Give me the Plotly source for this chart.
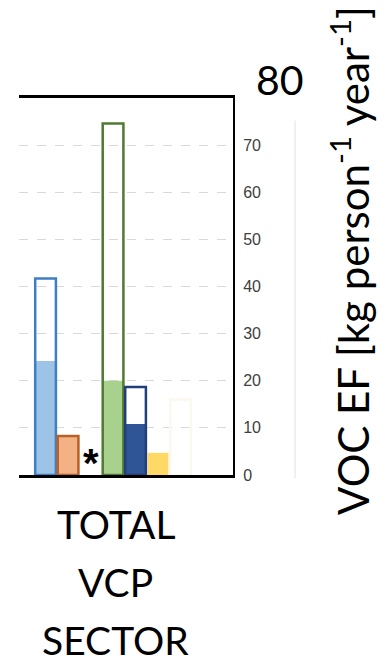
import plotly.graph_objects as go

# Emission-factor bars for the total VCP sector (kg person^-1 year^-1)
categories = ["Inventory A", "Inventory B", "gap", "Inventory C", "Inventory D", "Inventory E", "Inventory F"]
bar_categories = ["Inventory A", "Inventory B", "Inventory C", "Inventory D", "Inventory E", "Inventory F"]
total_values = [41.7, 8.3, 74.6, 18.7, 4.7, 16.0]
filled_values = [24.2, 8.3, 20.0, 10.8, 4.7, 0.0]
fill_colors = ["#9dc3e6", "#f4b183", "#a9d18e", "#2f5597", "#ffd966", "#ffffff"]
line_colors = ["#3d7fc4", "#b8602a", "#4f7a30", "#213f7a", "rgba(0,0,0,0)", "#fbf8ee"]
tick_values = [0, 10, 20, 30, 40, 50, 60, 70]
sector_lines = ["TOTAL", "VCP", "SECTOR"]

fig = go.Figure()

# filled portion of each bar
fig.add_trace(go.Bar(
    x=bar_categories, y=filled_values, width=0.92,
    marker=dict(color=fill_colors, line=dict(width=0)),
    showlegend=False, hoverinfo="skip",
))
# outlined total of each bar
fig.add_trace(go.Bar(
    x=bar_categories, y=total_values, width=0.92,
    marker=dict(color="rgba(0,0,0,0)", line=dict(color=line_colors, width=2.5)),
    showlegend=False, hoverinfo="skip",
))

fig.update_layout(
    width=391, height=659,
    margin=dict(l=19, r=158, t=98, b=184),
    paper_bgcolor="white", plot_bgcolor="white",
    barmode="overlay",
    xaxis=dict(
        type="category", categoryorder="array", categoryarray=categories,
        range=[-1.18, 8.33], showticklabels=False, ticks="",
        showline=True, mirror=True, linecolor="black", linewidth=3,
        showgrid=False, zeroline=False,
    ),
    yaxis=dict(
        side="right", range=[0, 80], tickvals=tick_values,
        showline=True, linecolor="black", linewidth=2,
        showgrid=True, gridcolor="#d9d9d9", gridwidth=1, griddash="dash",
        zeroline=False, ticks="", ticklabelstandoff=5,
        tickfont=dict(family="Liberation Sans, Arial", size=16, color="#404040"),
    ),
)

# thin divider to the right of the tick labels
fig.add_shape(type="line", xref="paper", yref="paper",
              x0=1.29, x1=1.29, y0=-0.008, y1=0.94,
              line=dict(color="#e2e2e2", width=1))

# marker for the missing inventory
fig.add_annotation(x="gap", y=0, xref="x", yref="y", text="<b>*</b>",
                   showarrow=False, yanchor="bottom", yshift=-12,
                   font=dict(family="Liberation Sans, Arial", size=40, color="black"))

# top value of the axis
fig.add_annotation(x=1.22, y=1.048, xref="paper", yref="paper", text="80",
                   showarrow=False, xanchor="center", yanchor="middle",
                   font=dict(family="Lato", size=41, color="black"))

# axis title
fig.add_annotation(x=1.547, y=0.568, xref="paper", yref="paper",
                   text="VOC EF [kg person<sup>-1</sup> year<sup>-1</sup>]",
                   textangle=-90, showarrow=False, xanchor="center", yanchor="middle",
                   font=dict(family="Lato", size=42, color="black"))

# sector label, one line per annotation
for i, line in enumerate(sector_lines):
    fig.add_annotation(x=0.453, y=-0.131 - i * 0.153, xref="paper", yref="paper",
                       text=line, showarrow=False, xanchor="center", yanchor="middle",
                       font=dict(family="Lato", size=39, color="black"))

fig.write_html("out.html")
